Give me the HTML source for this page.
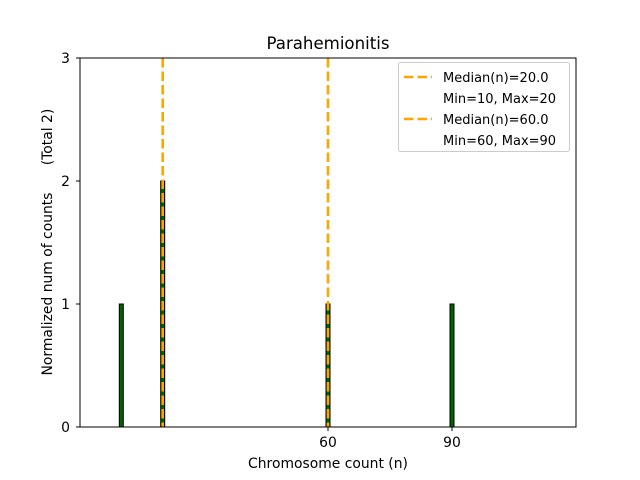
<!DOCTYPE html>
<html><head><style>body{margin:0;background:#fff}svg{display:block}</style></head><body>
<svg width="640" height="480" xmlns="http://www.w3.org/2000/svg" font-family="'DejaVu Sans', 'Liberation Sans', sans-serif">
<rect width="640" height="480" fill="#fff"/>
<line x1="80" y1="427" x2="178" y2="427" stroke="#bbb" stroke-width="1"/>
<g fill="#006400" stroke="#000" stroke-width="1">
<rect x="119.3" y="304" width="4" height="123"/>
<rect x="160.7" y="181" width="4" height="246"/>
<rect x="326" y="304" width="4" height="123"/>
<rect x="450" y="304" width="4" height="123"/>
</g>
<g stroke="#FFA500" stroke-width="2.6" stroke-dasharray="9.5,4">
<line x1="162.7" y1="58" x2="162.7" y2="427"/>
<line x1="328" y1="58" x2="328" y2="427"/>
</g>
<rect x="80" y="58" width="496" height="369" fill="none" stroke="#000" stroke-width="1"/>
<g stroke="#000" stroke-width="1">
<line x1="76" y1="427" x2="80" y2="427"/><line x1="76" y1="304" x2="80" y2="304"/>
<line x1="76" y1="181" x2="80" y2="181"/><line x1="76" y1="58" x2="80" y2="58"/>
<line x1="328" y1="427" x2="328" y2="431"/><line x1="452" y1="427" x2="452" y2="431"/>
</g>
<g font-size="13.9" fill="#000">
<text x="70" y="432" text-anchor="end">0</text>
<text x="70" y="309" text-anchor="end">1</text>
<text x="70" y="186" text-anchor="end">2</text>
<text x="70" y="63" text-anchor="end">3</text>
<text x="328" y="447" text-anchor="middle">60</text>
<text x="452" y="447" text-anchor="middle">90</text>
<text x="328" y="468" text-anchor="middle">Chromosome count (n)</text>
<text transform="translate(52,284) rotate(-90)" text-anchor="middle">Normalized num of counts</text>
<text transform="translate(52,137) rotate(-90)" text-anchor="middle">(Total 2)</text>
<text x="328" y="49" text-anchor="middle" font-size="16.6">Parahemionitis</text>
</g>
<rect x="398.5" y="62.5" width="171" height="89" rx="2" fill="#fff" fill-opacity="0.8" stroke="#ccc"/>
<g stroke="#FFA500" stroke-width="2.6" stroke-dasharray="9.5,4">
<line x1="404" y1="77" x2="432" y2="77"/>
<line x1="404" y1="119" x2="432" y2="119"/>
</g>
<g font-size="13" fill="#000">
<text x="443" y="82">Median(n)=20.0</text>
<text x="443" y="103">Min=10, Max=20</text>
<text x="443" y="124">Median(n)=60.0</text>
<text x="443" y="145">Min=60, Max=90</text>
</g>
</svg>
</body></html>
